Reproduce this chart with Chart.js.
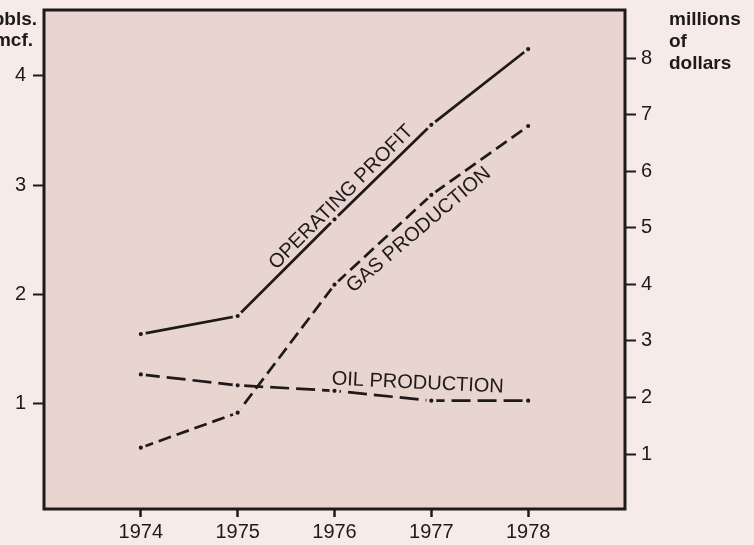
<!DOCTYPE html>
<html>
<head>
<meta charset="utf-8">
<script src="https://cdn.jsdelivr.net/npm/chart.js@4"></script>
<style>
html,body{margin:0;padding:0;background:#f6ebe8;}
#wrap{width:754px;height:545px;position:relative;}
</style>
</head>
<body>
<div id="wrap"><canvas id="c" width="754" height="545"></canvas></div>
<script>
const years = [1974, 1975, 1976, 1977, 1978];
const operatingProfit = [3.12, 3.44, 5.15, 6.82, 8.16];   // millions of dollars (right axis)
const gasProduction = [0.60, 0.92, 2.09, 2.91, 3.54];     // left axis
const oilProduction = [1.27, 1.17, 1.12, 1.03, 1.03];     // left axis
const leftTicks = [1, 2, 3, 4];
const rightTicks = [1, 2, 3, 4, 5, 6, 7, 8];

const INK = '#1e1a1a';
const PLOT_BG = '#e8d5cf';
const PAGE_BG = '#f6ebe8';
const FONT = '"Liberation Sans", Arial, Helvetica, sans-serif';

function pts(arr){ return years.map((y,i)=>({x:y, y:arr[i]})); }

function ds(label, data, axis, dash){
  return {
    label, data: pts(data), yAxisID: axis,
    borderColor: INK, borderWidth: 2.7, borderDash: dash,
    pointRadius: 3.6, pointBackgroundColor: INK,
    pointBorderColor: PLOT_BG, pointBorderWidth: 3,
    pointHoverRadius: 3.6, tension: 0, fill: false
  };
}

const framePlugin = {
  id: 'frame',
  beforeDraw(chart){
    const {ctx, chartArea:a} = chart;
    ctx.save();
    ctx.fillStyle = PAGE_BG;
    ctx.fillRect(0,0,chart.width,chart.height);
    ctx.fillStyle = PLOT_BG;
    ctx.fillRect(a.left, a.top, a.right-a.left, a.bottom-a.top);
    ctx.restore();
  },
  afterDraw(chart){
    const {ctx, chartArea:a, scales} = chart;
    ctx.save();
    ctx.strokeStyle = INK;
    ctx.lineWidth = 3;
    ctx.strokeRect(a.left, a.top, a.right-a.left, a.bottom-a.top);
    // series labels
    ctx.fillStyle = INK;
    ctx.font = '20px ' + FONT;
    ctx.textAlign = 'center';
    ctx.textBaseline = 'middle';
    const lab = (t, xv, yv, axis, ang) => {
      const x = scales.x.getPixelForValue(xv);
      const y = scales[axis].getPixelForValue(yv);
      ctx.save(); ctx.translate(x, y); ctx.rotate(ang*Math.PI/180);
      ctx.fillText(t, 0, 0); ctx.restore();
    };
    lab('OPERATING PROFIT', 1976.07, 5.54, 'y2', -45);
    lab('GAS PRODUCTION', 1976.87, 2.59, 'y', -40.4);
    lab('OIL PRODUCTION', 1976.86, 1.19, 'y', 2.7);
    // axis unit labels
    ctx.font = 'bold 19px ' + FONT;
    ctx.textAlign = 'right';
    ctx.textBaseline = 'middle';
    ctx.fillText('bbls.', 37, 20);
    ctx.fillText('mcf.', 33, 41);
    ctx.textAlign = 'left';
    ctx.fillText('millions', 669, 20);
    ctx.fillText('of', 669, 42);
    ctx.fillText('dollars', 669, 64);
    ctx.restore();
  }
};

function noPad(s){ s.paddingTop = 0; s.paddingBottom = 0; s.paddingLeft = 0; s.paddingRight = 0; }

new Chart(document.getElementById('c'), {
  type: 'line',
  data: { datasets: [
    ds('Operating profit', operatingProfit, 'y2', []),
    ds('Gas production', gasProduction, 'y', [13, 6]),
    ds('Oil production', oilProduction, 'y', [19, 7])
  ]},
  options: {
    responsive: false, animation: false, devicePixelRatio: 1,
    layout: { padding: { top: 10, left: 0, right: 0, bottom: 0 } },
    plugins: { legend: {display:false}, tooltip: {enabled:false} },
    scales: {
      x: {
        type: 'linear', min: 1973, max: 1979,
        afterBuildTicks(s){ s.ticks = years.map(v=>({value:v})); },
        afterFit(s){ s.height = 36; noPad(s); },
        border: { display: false },
        grid: { drawOnChartArea: false, drawTicks: true, tickLength: 8, tickWidth: 2.5, tickColor: INK },
        ticks: { color: INK, font: { family: FONT, size: 20 }, padding: 3, maxRotation: 0, callback: v => String(v) }
      },
      y: {
        position: 'left', min: 0.04, max: 4.60,
        afterBuildTicks(s){ s.ticks = leftTicks.map(v=>({value:v})); },
        afterFit(s){ s.width = 44; noPad(s); },
        border: { display: false },
        grid: { drawOnChartArea: false, drawTicks: true, tickLength: 11, tickWidth: 2, tickColor: INK },
        ticks: { color: INK, font: { family: FONT, size: 20 }, padding: 7, callback: v => String(v) }
      },
      y2: {
        position: 'right', min: 0.028, max: 8.85,
        afterBuildTicks(s){ s.ticks = rightTicks.map(v=>({value:v})); },
        afterFit(s){ s.width = 129; noPad(s); },
        border: { display: false },
        grid: { drawOnChartArea: false, drawTicks: true, tickLength: 11, tickWidth: 2, tickColor: INK },
        ticks: { color: INK, font: { family: FONT, size: 20 }, padding: 5, callback: v => String(v) }
      }
    }
  },
  plugins: [framePlugin]
});
</script>
</body>
</html>
